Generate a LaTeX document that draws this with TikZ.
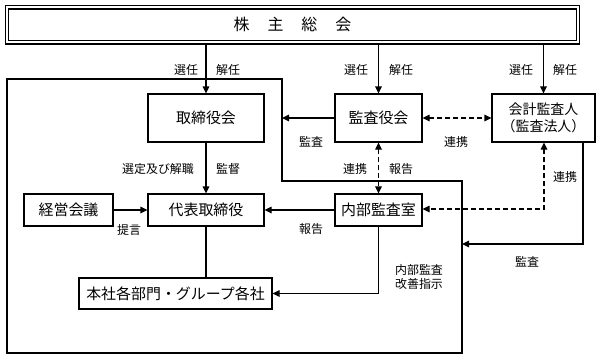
\documentclass[tikz,border=0pt]{standalone}
\usepackage{fontspec}
\setmainfont{Noto Sans CJK JP}
\usetikzlibrary{arrows.meta}
\tikzset{
  box/.style={draw, line width=1.1bp, inner sep=0pt, font=\fontsize{15}{17}\selectfont},
  lbl/.style={inner sep=0pt, font=\fontsize{12}{14}\selectfont},
  arr/.style={line width=1.1bp, -{Triangle[length=7bp,width=6.5bp]}},
  dbl/.style={line width=1.1bp, dash pattern=on 5bp off 3bp, {Triangle[length=7bp,width=6.5bp]}-{Triangle[length=7bp,width=6.5bp]}},
  plain/.style={line width=1.1bp},
}
\begin{document}
\begin{tikzpicture}[x=1bp,y=-1bp]
\useasboundingbox (0,0) rectangle (601,360);
% outline of the company
\coordinate (o1) at (7,79);
\coordinate (o2) at (282,181);
\coordinate (o3) at (462,353);
\draw[plain] (o1) -- (o1 -| o2) -- (o2) -- (o2 -| o3) -- (o3) -- (o3 -| o1) -- cycle;
% top box
\node[draw, line width=1.1bp, double=white, double distance=2.2bp, minimum width=571bp, minimum height=35bp, inner sep=0pt,
      font=\fontsize{16}{18}\selectfont] (top) at (292.5,24.8) {株\hspace{18bp}主\hspace{18bp}総\hspace{18bp}会};
% boxes
\node[box, minimum width=116bp, minimum height=48bp] (bod) at (206,118) {取締役会};
\node[box, minimum width=87bp, minimum height=48bp] (kansa) at (378.5,118) {監査役会};
\node[box, minimum width=103bp, minimum height=48bp, align=center, font=\fontsize{14}{17}\selectfont] (kaikei) at (543.5,118) {会計監査人\\（監査法人）};
\node[box, minimum width=89bp, minimum height=32bp] (keiei) at (68.5,210) {経営会議};
\node[box, minimum width=116bp, minimum height=32bp] (ceo) at (206,210) {代表取締役};
\node[box, minimum width=87bp, minimum height=32bp] (naibu) at (378.5,210) {内部監査室};
\node[box, minimum width=193bp, minimum height=31bp] (honsha) at (175.5,293.5) {本社各部門・グループ各社};
% arrows from shareholders
\draw[arr] (bod.north |- top.south) -- (bod.north);
\draw[arr] (kansa.north |- top.south) -- (kansa.north);
\draw[arr] (kaikei.north |- top.south) -- (kaikei.north);
% audit arrows
\draw[arr] (kansa.west) -- (kansa.west -| o2);
\coordinate (kr) at (583,244);
\draw[arr] (kaikei.south -| kr) -- (kr) -- (kr -| o3);
% dashed cooperation
\draw[dbl] (kansa.east) -- (kaikei.west);
\draw[dbl] (kansa.south) -- (naibu.north);
\coordinate (kd) at (544,209);
\draw[dbl] (kaikei.south -| kd) -- (kd) -- (naibu.east |- kd);
% internal lines
\draw[arr] (bod.south) -- (ceo.north);
\draw[arr] (keiei.east) -- (ceo.west);
\draw[arr] (naibu.west) -- (ceo.east);
\draw[plain] (ceo.south) -- (honsha.north -| ceo.south);
\coordinate (nh) at (378.5,293.5);
\draw[arr] (naibu.south) -- (nh) -- (honsha.east);
% labels
\node[lbl] (l1) at (186,70) {選任};
\node[lbl] (l2) at (228,70) {解任};
\node[lbl] (l3) at (356,70) {選任};
\node[lbl] (l4) at (401,70) {解任};
\node[lbl] (l5) at (521,70) {選任};
\node[lbl] (l6) at (565,70) {解任};
\node[lbl] (l7) at (311,142) {監査};
\node[lbl] (l8) at (456,142) {連携};
\node[lbl] (l9) at (158,169) {選定及び解職};
\node[lbl] (l10) at (228,169) {監督};
\node[lbl] (l11) at (355,169) {連携};
\node[lbl] (l12) at (401,169) {報告};
\node[lbl] (l13) at (565,177) {連携};
\node[lbl] (l14) at (129,230) {提言};
\node[lbl] (l15) at (311,229) {報告};
\node[lbl, align=center, font=\fontsize{12}{14}\selectfont] (l16) at (419,277) {内部監査\\改善指示};
\node[lbl] (l17) at (527,262) {監査};
\end{tikzpicture}
\end{document}
